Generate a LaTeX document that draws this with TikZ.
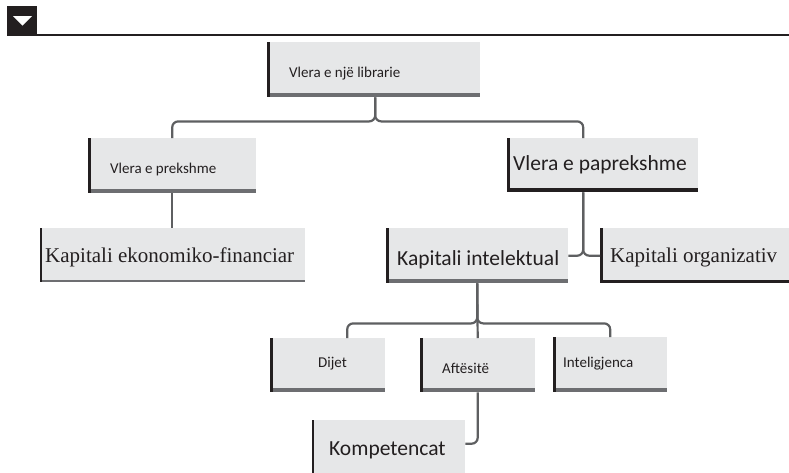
\documentclass[tikz,border=0pt]{standalone}
\usepackage{fontspec}
\setmainfont{Carlito}
\newfontfamily\serifface{Liberation Serif}
\definecolor{boxfill}{HTML}{E6E7E8}
\definecolor{barcol}{HTML}{231F20}
\definecolor{shgray}{HTML}{6D6E71}
\definecolor{conncol}{HTML}{5E5F61}
\tikzset{
  bx/.style n args={3}{anchor=north west, inner sep=0pt, fill=boxfill,
    path picture={
      \fill[#2] ([yshift=#3]path picture bounding box.south west) rectangle (path picture bounding box.south east);
      \draw[barcol, line width=#1] (path picture bounding box.north west) -- (path picture bounding box.south west);
    }},
  txt/.style={anchor=base west, inner sep=0pt, text=barcol},
  small/.style={font=\fontsize{15}{18}\selectfont},
  large/.style={font=\fontsize{21.5}{25}\selectfont},
  serifl/.style={font=\serifface\fontsize{21}{24}\selectfont},
  conn/.style={draw=conncol, line width=2.2pt, rounded corners=6pt},
}
\begin{document}
\begin{tikzpicture}[x=1pt,y=-1pt]
\useasboundingbox (0,0) rectangle (789,472);
% header
\node[anchor=north west, inner sep=0pt, fill=barcol, minimum size=30pt] (hdr) at (7,6) {};
\fill[white] (13,16) -- (32,16) -- (22.5,25.5) -- cycle;
\coordinate (lineend) at (789,34.5);
\draw[barcol, line width=2pt] (hdr.east |- lineend) -- (lineend);

% boxes
\node[bx={5pt}{shgray}{4.5pt}, minimum width=213pt, minimum height=55pt] (top) at (267,42) {};
\node[bx={5pt}{shgray}{4.5pt}, minimum width=168pt, minimum height=55pt] (prek) at (88,138) {};
\node[bx={5pt}{barcol}{4pt}, minimum width=191pt, minimum height=54pt] (pap) at (507,138) {};
\node[bx={3pt}{shgray}{2.5pt}, minimum width=265pt, minimum height=54pt] (ekon) at (40,228) {};
\node[bx={5pt}{shgray}{4.5pt}, minimum width=182pt, minimum height=55pt] (intel) at (386,228) {};
\node[bx={5pt}{barcol}{3pt}, minimum width=190pt, minimum height=55pt] (organ) at (600,228) {};
\node[bx={5pt}{shgray}{4.5pt}, minimum width=115pt, minimum height=54pt] (dijet) at (270,338) {};
\node[bx={5pt}{shgray}{4.5pt}, minimum width=115pt, minimum height=54pt] (aft) at (420,338) {};
\node[bx={5pt}{shgray}{4.5pt}, minimum width=114pt, minimum height=55pt] (intelig) at (553,337) {};
\node[bx={3pt}{boxfill}{0pt}, minimum width=153pt, minimum height=53pt] (komp) at (312,420) {};

% texts
\node[txt, small] (ttop) at (289,77) {Vlera e një librarie};
\node[txt, small] (tprek) at (110,173) {Vlera e prekshme};
\node[txt, large] (tpap) at (513,170) {Vlera e paprekshme};
\node[txt, serifl] (tekon) at (45,262) {Kapitali ekonomiko-financiar};
\node[txt, large] (tintel) at (397,265) {Kapitali intelektual};
\node[txt, serifl] (torgan) at (610,262) {Kapitali organizativ};
\node[txt, small] (tdijet) at (318,367) {Dijet};
\node[txt, small] (taft) at (442,373) {Aftësitë};
\node[txt, small] (tintelig) at (563,367) {Inteligjenca};
\node[txt, large] (tkomp) at (329,455) {Kompetencat};

% connectors
\draw[conn] ([xshift=1.5pt]top.south) -- ++(0,24) -| (prek.north);
\draw[conn] ([xshift=1.5pt]top.south) -- ++(0,24) -| ([xshift=-19.5pt]pap.north);
\draw[conn] (prek.south) -- (prek.south |- ekon.north);
\draw[conn] ([xshift=-19.5pt]pap.south) |- (intel.east);
\draw[conn] ([xshift=-19.5pt]pap.south) |- (organ.west);
\draw[conn] (intel.south) -- ++(0,40) -| ([xshift=19.5pt]dijet.north);
\draw[conn] (intel.south) -- ++(0,40) -| (intelig.north);
\draw[conn] (intel.south) -- (aft.north);
\draw[conn] (aft.south) |- ([yshift=3pt]komp.east);
\end{tikzpicture}
\end{document}
